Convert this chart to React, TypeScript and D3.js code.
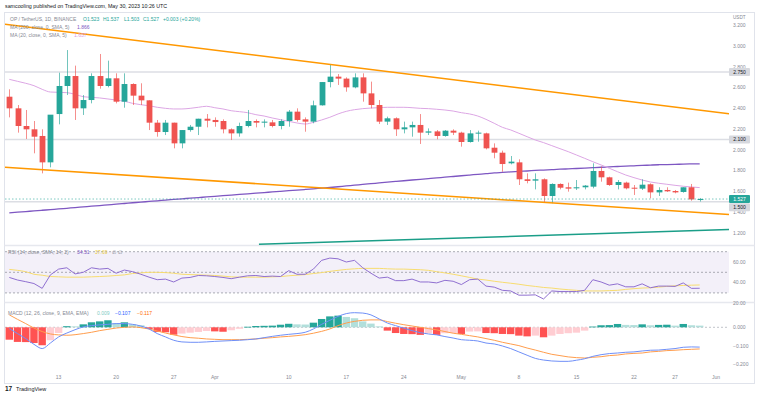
import * as d3 from 'd3';
import React, { useEffect, useRef } from 'react';

// daily candles, OP/USDT, Mar 7 .. May 30 2023
const opens = [2.512, 2.400, 2.230, 2.198, 2.134, 1.880, 2.345, 2.615, 2.711, 2.400,
  2.480, 2.711, 2.615, 2.689, 2.464, 2.634, 2.522, 2.477, 2.262, 2.172,
  2.262, 2.063, 2.191, 2.223, 2.300, 2.288, 2.278, 2.198, 2.159, 2.230,
  2.278, 2.262, 2.265, 2.230, 2.278, 2.368, 2.294, 2.272, 2.429, 2.653,
  2.705, 2.686, 2.602, 2.698, 2.544, 2.432, 2.272, 2.304, 2.198, 2.217,
  2.240, 2.166, 2.178, 2.134, 2.185, 2.166, 2.076, 2.159, 2.159, 2.021,
  1.973, 1.871, 1.880, 1.717, 1.704, 1.717, 1.556, 1.672, 1.640, 1.630,
  1.640, 1.646, 1.797, 1.736, 1.662, 1.685, 1.636, 1.627, 1.669, 1.591,
  1.614, 1.604, 1.595, 1.640, 1.523];
const highs = [2.583, 2.432, 2.384, 2.278, 2.198, 2.198, 2.743, 2.961, 2.811, 2.528,
  2.737, 2.923, 2.859, 2.737, 2.737, 2.641, 2.641, 2.477, 2.288, 2.288,
  2.262, 2.191, 2.240, 2.300, 2.345, 2.313, 2.294, 2.207, 2.262, 2.384,
  2.294, 2.294, 2.288, 2.294, 2.384, 2.400, 2.313, 2.474, 2.653, 2.827,
  2.730, 2.698, 2.737, 2.737, 2.657, 2.480, 2.320, 2.313, 2.272, 2.272,
  2.345, 2.207, 2.191, 2.191, 2.198, 2.175, 2.191, 2.185, 2.166, 2.063,
  1.993, 1.941, 1.909, 1.774, 1.774, 1.726, 1.678, 1.678, 1.685, 1.710,
  1.662, 1.871, 1.839, 1.742, 1.710, 1.694, 1.662, 1.717, 1.678, 1.640,
  1.640, 1.614, 1.640, 1.672, 1.537];
const lows = [2.313, 2.166, 2.105, 1.967, 1.774, 1.832, 2.246, 2.528, 2.288, 2.336,
  2.448, 2.589, 2.602, 2.448, 2.406, 2.432, 2.432, 2.191, 2.127, 2.143,
  2.015, 2.015, 2.175, 2.143, 2.217, 2.223, 2.159, 2.095, 2.127, 2.217,
  2.217, 2.217, 2.217, 2.198, 2.223, 2.272, 2.175, 2.256, 2.426, 2.602,
  2.625, 2.560, 2.593, 2.464, 2.400, 2.249, 2.240, 2.134, 2.159, 2.127,
  2.057, 2.143, 2.102, 2.127, 2.143, 2.031, 2.070, 2.079, 2.005, 1.919,
  1.790, 1.861, 1.662, 1.678, 1.620, 1.492, 1.486, 1.620, 1.598, 1.614,
  1.620, 1.630, 1.694, 1.653, 1.620, 1.620, 1.566, 1.614, 1.534, 1.556,
  1.595, 1.582, 1.588, 1.511, 1.503];
const closes = [2.400, 2.230, 2.198, 2.127, 1.880, 2.339, 2.615, 2.711, 2.400, 2.480,
  2.711, 2.615, 2.689, 2.464, 2.634, 2.522, 2.477, 2.262, 2.172, 2.262,
  2.063, 2.191, 2.223, 2.300, 2.281, 2.268, 2.198, 2.159, 2.230, 2.278,
  2.262, 2.272, 2.230, 2.278, 2.368, 2.288, 2.272, 2.429, 2.653, 2.705,
  2.686, 2.602, 2.698, 2.544, 2.432, 2.272, 2.304, 2.198, 2.217, 2.240,
  2.166, 2.178, 2.134, 2.185, 2.166, 2.076, 2.159, 2.166, 2.015, 1.973,
  1.864, 1.887, 1.717, 1.701, 1.717, 1.556, 1.672, 1.636, 1.627, 1.640,
  1.656, 1.797, 1.736, 1.662, 1.691, 1.630, 1.627, 1.665, 1.591, 1.614,
  1.601, 1.591, 1.640, 1.523, 1.527];

const ma20 = [2.679, 2.660, 2.641, 2.618, 2.583, 2.557, 2.554, 2.551, 2.535, 2.512,
  2.506, 2.500, 2.490, 2.480, 2.468, 2.448, 2.435, 2.425, 2.410, 2.400,
  2.394, 2.394, 2.400, 2.410, 2.420, 2.406, 2.394, 2.377, 2.368, 2.358,
  2.339, 2.326, 2.307, 2.291, 2.275, 2.259, 2.249, 2.265, 2.288, 2.314,
  2.346, 2.371, 2.387, 2.397, 2.403, 2.406, 2.410, 2.410, 2.410, 2.406,
  2.400, 2.397, 2.391, 2.384, 2.374, 2.358, 2.346, 2.326, 2.294, 2.256,
  2.217, 2.192, 2.160, 2.127, 2.095, 2.070, 2.041, 2.012, 1.983, 1.951,
  1.919, 1.886, 1.855, 1.823, 1.790, 1.758, 1.733, 1.710, 1.691, 1.679,
  1.669, 1.659, 1.650, 1.643, 1.637];
const ma200 = [1.393, 1.400, 1.406, 1.413, 1.419, 1.425, 1.432, 1.438, 1.445, 1.451,
  1.458, 1.464, 1.471, 1.477, 1.484, 1.491, 1.497, 1.504, 1.510, 1.517,
  1.523, 1.529, 1.535, 1.541, 1.547, 1.553, 1.559, 1.565, 1.571, 1.577,
  1.583, 1.589, 1.595, 1.601, 1.607, 1.613, 1.619, 1.625, 1.632, 1.638,
  1.645, 1.653, 1.660, 1.668, 1.675, 1.682, 1.689, 1.696, 1.703, 1.710,
  1.717, 1.724, 1.731, 1.737, 1.744, 1.751, 1.758, 1.765, 1.771, 1.778,
  1.783, 1.788, 1.793, 1.797, 1.802, 1.806, 1.810, 1.814, 1.817, 1.821,
  1.825, 1.829, 1.833, 1.836, 1.840, 1.843, 1.847, 1.850, 1.854, 1.857,
  1.859, 1.861, 1.863, 1.865, 1.866];

const rsi = [45.0, 42.5, 40.9, 39.1, 34.4, 47.5, 53.1, 54.4, 48.4, 50.0,
  54.4, 53.1, 53.8, 49.1, 52.2, 50.6, 48.1, 45.3, 42.8, 43.4,
  40.6, 44.4, 45.0, 46.9, 46.6, 45.9, 45.0, 43.8, 45.3, 46.6,
  46.9, 45.9, 46.3, 45.9, 51.6, 48.1, 48.1, 53.1, 61.6, 63.8,
  63.1, 60.0, 61.6, 54.4, 49.1, 44.4, 45.3, 41.9, 41.9, 43.4,
  40.6, 40.6, 39.7, 42.2, 41.3, 38.1, 42.8, 43.4, 36.6, 35.6,
  32.5, 31.9, 27.8, 27.8, 28.1, 24.1, 31.9, 31.3, 31.3, 31.3,
  32.5, 42.8, 40.6, 37.5, 38.8, 35.9, 35.9, 38.8, 35.0, 36.6,
  36.6, 36.3, 39.7, 34.4, 34.51];
const rsiMa = [52.8, 51.9, 50.6, 48.1, 47.2, 45.9, 45.6, 45.3, 45.3, 45.3,
  45.6, 45.9, 46.3, 46.9, 47.5, 48.8, 49.4, 50.0, 50.0, 49.7,
  49.1, 48.1, 47.8, 47.5, 47.2, 46.9, 46.3, 45.6, 45.3, 45.3,
  45.3, 45.3, 45.6, 45.9, 46.6, 47.2, 47.8, 48.8, 49.7, 50.9,
  51.9, 52.8, 53.4, 53.8, 53.8, 53.8, 53.4, 53.1, 53.1, 52.8,
  52.5, 51.9, 50.6, 49.4, 48.1, 46.6, 45.0, 43.4, 42.5, 41.3,
  40.3, 39.4, 38.4, 37.2, 36.3, 35.3, 34.7, 33.8, 33.1, 32.5,
  31.9, 31.9, 31.9, 32.2, 32.5, 33.4, 34.1, 34.7, 35.0, 35.6,
  36.3, 36.9, 37.2, 37.5, 37.69];

const macdLine = [-0.007, -0.034, -0.061, -0.092, -0.115, -0.085, -0.052, -0.031, -0.013, 0.002,
  0.009, 0.013, 0.016, 0.020, 0.020, 0.016, 0.007, -0.009, -0.034, -0.052,
  -0.070, -0.079, -0.081, -0.081, -0.079, -0.076, -0.074, -0.072, -0.070, -0.067,
  -0.063, -0.056, -0.049, -0.043, -0.038, -0.034, -0.027, -0.009, 0.016, 0.038,
  0.059, 0.074, 0.079, 0.077, 0.067, 0.045, 0.023, 0.009, -0.005, -0.018,
  -0.029, -0.036, -0.041, -0.050, -0.058, -0.067, -0.070, -0.074, -0.085, -0.090,
  -0.101, -0.115, -0.133, -0.151, -0.168, -0.177, -0.182, -0.184, -0.184, -0.178,
  -0.170, -0.157, -0.148, -0.142, -0.139, -0.135, -0.133, -0.128, -0.124, -0.123,
  -0.119, -0.115, -0.108, -0.106, -0.107];
const signalLine = [0.067, 0.043, 0.020, -0.004, -0.023, -0.036, -0.041, -0.043, -0.040, -0.034,
  -0.027, -0.018, -0.011, -0.004, 0.000, 0.002, -0.002, -0.009, -0.020, -0.031,
  -0.041, -0.050, -0.056, -0.059, -0.063, -0.065, -0.067, -0.067, -0.067, -0.065,
  -0.063, -0.059, -0.056, -0.052, -0.049, -0.045, -0.040, -0.032, -0.022, -0.009,
  0.009, 0.023, 0.032, 0.038, 0.040, 0.040, 0.031, 0.022, 0.014, 0.007,
  0.000, -0.007, -0.014, -0.023, -0.032, -0.038, -0.045, -0.052, -0.061, -0.070,
  -0.081, -0.090, -0.099, -0.112, -0.123, -0.135, -0.146, -0.153, -0.160, -0.164,
  -0.166, -0.162, -0.159, -0.153, -0.150, -0.144, -0.141, -0.139, -0.133, -0.130,
  -0.126, -0.124, -0.121, -0.119, -0.117];
const macdHist = [-0.067, -0.079, -0.080, -0.085, -0.097, -0.070, -0.031, 0.006, 0.005, 0.016,
  0.027, 0.032, 0.038, 0.023, 0.027, 0.016, 0.011, -0.009, -0.025, -0.027,
  -0.040, -0.034, -0.029, -0.025, -0.020, -0.022, -0.024, -0.016, -0.008, 0.003,
  0.007, 0.008, 0.009, 0.014, 0.019, 0.016, 0.015, 0.025, 0.045, 0.059,
  0.063, 0.056, 0.049, 0.032, 0.020, 0.005, -0.018, -0.031, -0.036, -0.037,
  -0.041, -0.032, -0.041, -0.032, -0.031, -0.036, -0.023, -0.022, -0.031, -0.032,
  -0.036, -0.037, -0.045, -0.049, -0.045, -0.054, -0.045, -0.036, -0.032, -0.029,
  -0.018, 0.004, 0.011, 0.012, 0.018, 0.013, 0.012, 0.016, 0.011, 0.013,
  0.014, 0.009, 0.018, 0.011, 0.009];

const priceTicks = [3.2, 3.0, 2.8, 2.6, 2.4, 2.2, 2.0, 1.8, 1.6, 1.4, 1.2];
const rsiTicks = [60, 40, 20];
const rsiBands = [70, 50, 30];
const macdTicks = [0, -0.1, -0.2];
const dateTicks = ['2023-03-13', '2023-03-20', '2023-03-27', '2023-04-01', '2023-04-10', '2023-04-17',
  '2023-04-24', '2023-05-01', '2023-05-08', '2023-05-15', '2023-05-22', '2023-05-27', '2023-06-01'];
const dateLabels = ['13', '20', '27', 'Apr', '10', '17', '24', 'May', '8', '15', '22', '27', 'Jun'];
const hLevels = [2.75, 2.1, 1.5];
const lastPrice = 1.527;

// drawn trend lines as [date, price] anchors
const upperChannel = [['2023-03-07', 3.204], ['2023-05-30', 2.383]];
const lowerChannel = [['2023-03-07', 1.830], ['2023-05-30', 1.397]];
const supportRay = [['2023-04-06T09:00:00Z', 1.091], ['2023-05-30', 1.224]];

const W = 760;
const H = 396;
const FONT = '"Liberation Sans", Arial, sans-serif';
const UP = '#26a69a';
const DOWN = '#ef5350';
const GRAY = '#868993';

export default function App() {
  const ref = useRef(null);

  useEffect(() => {
    document.body.style.margin = '0';
    const svg = d3.select(ref.current);
    svg.selectAll('*').remove();
    svg.attr('width', W).attr('height', H).style('display', 'block').style('background', '#fff');

    const left = 5, right = 729;
    const mainTop = 13, mainBottom = 245.5;
    const rsiBottom = 302.5, macdBottom = 370;

    const dates = opens.map((_, i) => new Date(Date.UTC(2023, 2, 7 + i)));
    const x = d3.scaleUtc().domain([dates[0], dates[dates.length - 1]]).range([9.3, 699.7]);
    const y = d3.scaleLinear().domain([1.2, 3.0]).range([233, 46]);
    const yR = d3.scaleLinear().domain([30, 70]).range([292.9, 251.7]);
    const yM = d3.scaleLinear().domain([-0.2, 0]).range([364.3, 327.3]);

    const defs = svg.append('defs');
    const clip = (id, y0, y1) => defs.append('clipPath').attr('id', id)
      .append('rect').attr('x', left).attr('y', y0).attr('width', right - left).attr('height', y1 - y0);
    clip('cMain', mainTop, mainBottom);
    clip('cRsi', mainBottom, rsiBottom);
    clip('cMacd', rsiBottom, macdBottom);

    const txt = (g, px, py, s, color, size = 5, anchor = 'start', weight = 'normal') =>
      g.append('text').attr('x', px).attr('y', py).attr('dy', '0.35em')
        .attr('font-family', FONT).attr('font-size', size).attr('fill', color)
        .attr('text-anchor', anchor).attr('font-weight', weight).text(s);

    // frame and pane separators
    svg.append('rect').attr('x', 4.5).attr('y', 12.5).attr('width', 750).attr('height', 371)
      .attr('fill', 'none').attr('stroke', '#e0e3eb');
    [mainBottom, rsiBottom].forEach(v => {
      svg.append('line').attr('x1', 4.5).attr('x2', 754.5).attr('y1', v).attr('y2', v)
        .attr('stroke', '#e6e8ee').attr('stroke-width', 1.5);
    });

    // ---------- main pane ----------
    const main = svg.append('g').attr('clip-path', 'url(#cMain)');
    hLevels.forEach(v => {
      main.append('line').attr('x1', left).attr('x2', right).attr('y1', y(v)).attr('y2', y(v))
        .attr('stroke', '#dcdee4').attr('stroke-width', 1.5);
    });

    const lineGen = (ys, arr) => d3.line().x((_, i) => x(dates[i])).y(d => ys(d)).curve(d3.curveMonotoneX)(arr);

    main.append('path').attr('d', lineGen(y, ma200)).attr('fill', 'none')
      .attr('stroke', '#7e57c2').attr('stroke-width', 1.3);
    main.append('path').attr('d', lineGen(y, ma20)).attr('fill', 'none')
      .attr('stroke', '#dca6e4').attr('stroke-width', 1);

    const bodyW = 5.8;
    closes.forEach((c, i) => {
      const o = opens[i];
      const col = c >= o ? UP : DOWN;
      const cx = Math.round(x(dates[i])) + 0.5;
      main.append('line').attr('x1', cx).attr('x2', cx).attr('y1', y(highs[i])).attr('y2', y(lows[i]))
        .attr('stroke', col).attr('stroke-opacity', 0.65).attr('stroke-width', 1);
      const top = y(Math.max(o, c));
      const h = Math.max(1, y(Math.min(o, c)) - top);
      main.append('rect').attr('x', cx - bodyW / 2).attr('y', top).attr('width', bodyW).attr('height', h)
        .attr('fill', col);
    });

    // trend lines, extended through the pane
    const drawTrend = (pts, color, extendLeft) => {
      const [a, b] = pts.map(([d, p]) => [x(new Date(d)), y(p)]);
      const k = (b[1] - a[1]) / (b[0] - a[0]);
      const x0 = extendLeft ? left : a[0];
      main.append('line').attr('x1', x0).attr('y1', a[1] + k * (x0 - a[0]))
        .attr('x2', right).attr('y2', a[1] + k * (right - a[0]))
        .attr('stroke', color).attr('stroke-width', 1.5);
    };
    drawTrend(upperChannel, '#ff9800', true);
    drawTrend(lowerChannel, '#ff9800', true);
    drawTrend(supportRay, '#1b9e88', false);

    main.append('line').attr('x1', left).attr('x2', right).attr('y1', y(lastPrice)).attr('y2', y(lastPrice))
      .attr('stroke', UP).attr('stroke-opacity', 0.6).attr('stroke-dasharray', '1.5,2');

    // price axis
    priceTicks.forEach(v => txt(svg, 733, y(v), v.toFixed(3), GRAY));
    svg.append('rect').attr('x', 730).attr('y', 13).attr('width', 22).attr('height', 8).attr('fill', '#fff');
    txt(svg, 733, 17, 'USDT', GRAY, 4.6);
    const box = (v, py, fill, color) => {
      svg.append('rect').attr('x', 729).attr('y', py - 4).attr('width', 21).attr('height', 8).attr('rx', 1)
        .attr('fill', fill);
      txt(svg, 739.5, py, v.toFixed(3), color, 5, 'middle');
    };
    box(2.75, y(2.75), '#d6d8de', '#131722');
    box(2.1, y(2.1), '#d6d8de', '#131722');
    box(lastPrice, y(lastPrice), UP, '#fff');
    box(1.5, y(lastPrice) + 8.2, '#d6d8de', '#131722');

    // ---------- RSI pane ----------
    const rp = svg.append('g').attr('clip-path', 'url(#cRsi)');
    rp.append('rect').attr('x', left).attr('width', right - left)
      .attr('y', yR(70)).attr('height', yR(30) - yR(70)).attr('fill', '#7e57c2').attr('fill-opacity', 0.09);
    rsiBands.forEach(v => {
      rp.append('line').attr('x1', left).attr('x2', right).attr('y1', yR(v)).attr('y2', yR(v))
        .attr('stroke', '#9598a1').attr('stroke-dasharray', '2,2').attr('stroke-width', 0.8);
    });
    rp.append('path').attr('d', lineGen(yR, rsiMa)).attr('fill', 'none')
      .attr('stroke', '#f7dc6f').attr('stroke-width', 1);
    rp.append('path').attr('d', d3.line().x((_, i) => x(dates[i])).y(d => yR(d))(rsi)).attr('fill', 'none')
      .attr('stroke', '#8f6fd0').attr('stroke-width', 1);
    rsiTicks.forEach(v => txt(svg, 733, yR(v), v.toFixed(2), GRAY));

    // ---------- MACD pane ----------
    const mp = svg.append('g').attr('clip-path', 'url(#cMacd)');
    mp.append('line').attr('x1', left).attr('x2', right).attr('y1', yM(0)).attr('y2', yM(0))
      .attr('stroke', '#b2b5be').attr('stroke-dasharray', '2,2').attr('stroke-width', 0.8);
    const barW = 7.4;
    macdHist.forEach((v, i) => {
      // first bar has no previous value: draw it in the strong colour
      const growing = i === 0 ? true : (v >= 0 ? v > macdHist[i - 1] : v < macdHist[i - 1]);
      const col = v >= 0 ? (growing ? '#26a69a' : '#b2dfdb') : (growing ? '#ff5252' : '#ffcdd2');
      const cx = x(dates[i]);
      const y0 = yM(0), y1 = yM(v);
      mp.append('rect').attr('x', cx - barW / 2).attr('width', barW)
        .attr('y', Math.min(y0, y1)).attr('height', Math.max(0.8, Math.abs(y1 - y0))).attr('fill', col);
    });
    mp.append('path').attr('d', lineGen(yM, signalLine)).attr('fill', 'none')
      .attr('stroke', '#ff9d4d').attr('stroke-width', 1);
    mp.append('path').attr('d', lineGen(yM, macdLine)).attr('fill', 'none')
      .attr('stroke', '#6f8ff7').attr('stroke-width', 1);
    macdTicks.forEach(v => txt(svg, 733, yM(v), v === 0 ? '0.000' : '\u2212' + Math.abs(v).toFixed(3), GRAY));

    // ---------- time axis ----------
    dateTicks.forEach((d, i) => txt(svg, x(new Date(d)), 377, dateLabels[i], GRAY, 5, 'middle'));

    // ---------- legends ----------
    txt(svg, 5, 6, 'samcooling published on TradingView.com, May 30, 2023 10:26 UTC', '#131722', 5.3);
    const legend = (py, parts) => parts.forEach(([px, s, c]) => txt(svg, px, py, s, c));
    legend(19, [[10, 'OP / TetherUS, 1D, BINANCE', GRAY], [83, 'O1.523', UP], [103, 'H1.537', UP],
      [124, 'L1.503', UP], [143, 'C1.527', UP], [163, '+0.003 (+0.20%)', UP]]);
    legend(27, [[10, 'MA (200, close, 0, SMA, 5)', GRAY], [77, '1.866', '#7e57c2']]);
    legend(35, [[10, 'MA (20, close, 0, SMA, 5)', GRAY], [74, '1.637', '#d99ae2']]);
    legend(252.5, [[8, 'RSI (14, close, SMA, 14, 2)', GRAY], [77, '34.51', '#7e57c2'],
      [95, '37.69', '#e9c93a'], [112, '\u2205', GRAY], [118, '\u2205', GRAY]]);
    legend(313, [[8, 'MACD (12, 26, close, 9, EMA, EMA)', GRAY], [97, '0.009', '#80cbc4'],
      [115, '\u22120.107', '#2962ff'], [137, '\u22120.117', '#ff6d00']]);

    // footer logo
    txt(svg, 5, 389, '17', '#131722', 6.5, 'start', 'bold');
    txt(svg, 16, 389, 'TradingView', '#131722', 5.5);
  }, []);

  return <svg ref={ref}></svg>;
}
